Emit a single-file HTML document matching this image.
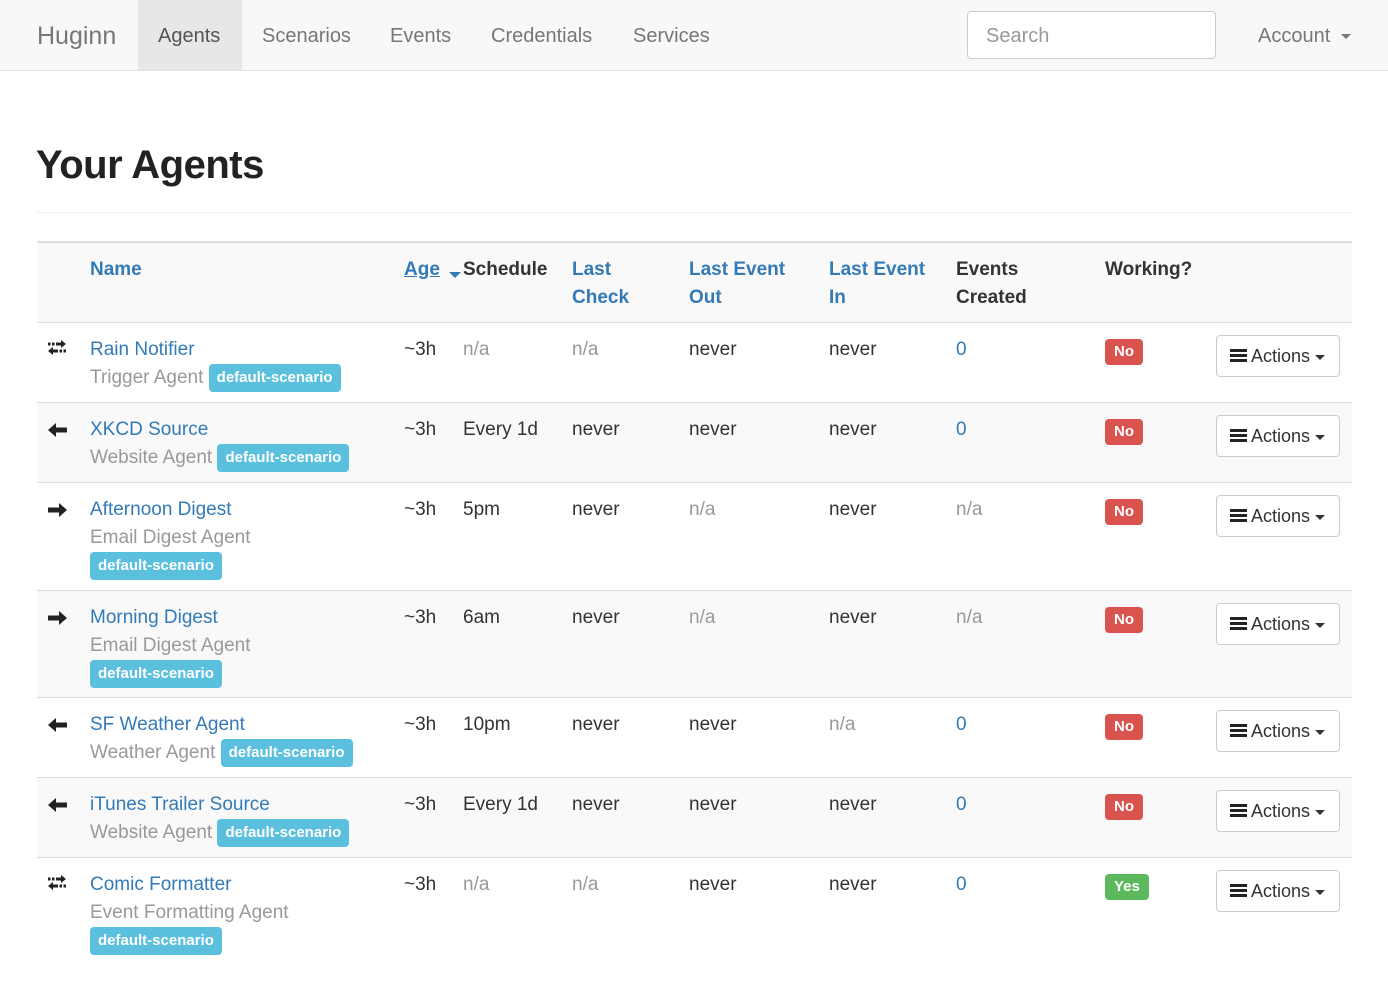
<!DOCTYPE html>
<html><head><meta charset="utf-8"><style>
*{margin:0;padding:0;box-sizing:border-box}
body{width:1388px;height:1004px;background:#fff;font-family:"Liberation Sans",Arial,sans-serif;font-size:19px;color:#333;position:relative;overflow:hidden}
.a{position:absolute;white-space:nowrap;line-height:28px}
.nav{position:absolute;left:0;top:0;width:1388px;height:71px;background:#f8f8f8;border-bottom:1px solid #e2e2e2}
.nav .a{top:22px;color:#777;font-size:20px}
.blue{color:#337ab7}
.mut{color:#999}
.row{position:absolute;left:37px;width:1315px;border-top:1px solid #ddd}
.row .a{top:13px}
.st{background:#f9f9f9}
.lbl{display:inline-block;background:#5bc0de;color:#fff;font-weight:bold;font-size:15px;line-height:28px;height:28px;padding:0 8px;border-radius:4px;vertical-align:middle}
.no,.yes{position:absolute;top:16px;left:1068px;color:#fff;font-weight:bold;font-size:15px;height:26px;line-height:26px;padding:0 9px;border-radius:4px;background:#d9534f}
.yes{background:#5cb85c}
.btn{position:absolute;top:12px;left:1179px;width:124px;height:42px;border:1px solid #ccc;border-radius:4px;background:#fff;font-size:18px;line-height:40px;padding-left:13px;color:#333}
.car{display:inline-block;width:0;height:0;border-left:5px solid transparent;border-right:5px solid transparent;border-top:5px solid #333;vertical-align:middle;margin-left:5px}
.ic{display:inline-block;width:17px;height:14px;vertical-align:-1px;margin-right:4px;background:linear-gradient(#222 0 3px,transparent 3px 5px,#222 5px 8px,transparent 8px 10px,#222 10px 13px,transparent 0)}
.arr{position:absolute;left:11px;top:17px}
.th{font-weight:bold}
</style></head><body>
<div class="nav">
<div style="position:absolute;left:138px;top:0;width:104px;height:70px;background:#e7e7e7"></div>
<div class="a" style="left:37px;top:22px;font-size:25px">Huginn</div>
<div class="a" style="left:158px;color:#555">Agents</div>
<div class="a" style="left:262px">Scenarios</div>
<div class="a" style="left:390px">Events</div>
<div class="a" style="left:491px">Credentials</div>
<div class="a" style="left:633px">Services</div>
<div style="position:absolute;left:967px;top:11px;width:249px;height:48px;background:#fff;border:1px solid #ccc;border-radius:4px"></div>
<div class="a" style="left:986px;color:#999">Search</div>
<div class="a" style="left:1258px;color:#777">Account <span class="car" style="border-top-color:#777"></span></div>
</div>
<div class="a" style="left:36px;top:140px;font-size:40px;line-height:50px;color:#222;font-weight:bold;letter-spacing:-0.5px">Your Agents</div>
<div style="position:absolute;left:37px;top:212px;width:1315px;border-top:1px solid #eee"></div>

<svg width="0" height="0" style="position:absolute"><defs>
<g id="L"><polygon points="0,7 8,0 8,4.5 19,4.5 19,9.5 8,9.5 8,14" fill="#222"/></g>
<g id="R"><polygon points="19,7 11,0 11,4.5 0,4.5 0,9.5 11,9.5 11,14" fill="#222"/></g>
<g id="B"><polygon points="18,4 13,0 13,2.5 8,2.5 8,5.5 13,5.5 13,8" fill="#222"/><rect x="0" y="2.5" width="2.5" height="3" fill="#222"/><rect x="4" y="2.5" width="2.5" height="3" fill="#222"/>
<polygon points="0,11 5,7 5,9.5 10,9.5 10,12.5 5,12.5 5,15" fill="#222"/><rect x="11.5" y="9.5" width="2.5" height="3" fill="#222"/><rect x="15.5" y="9.5" width="2.5" height="3" fill="#222"/></g>
</defs></svg>

<div class="row st" style="top:241px;height:81px;border-top:2px solid #ddd">
<div class="a th" style="left:53px;top:13px;color:#337ab7">Name</div>
<div class="a th" style="left:367px;top:13px;color:#337ab7;text-decoration:underline">Age</div>
<div style="position:absolute;left:412px;top:29px;border-left:6px solid transparent;border-right:6px solid transparent;border-top:6px solid #337ab7"></div>
<div class="a th" style="left:426px;top:13px">Schedule</div>
<div class="a th blue" style="left:535px;top:13px">Last<br>Check</div>
<div class="a th blue" style="left:652px;top:13px">Last Event<br>Out</div>
<div class="a th blue" style="left:792px;top:13px">Last Event<br>In</div>
<div class="a th" style="left:919px;top:13px">Events<br>Created</div>
<div class="a th" style="left:1068px;top:13px">Working?</div>
</div>

<div class="row" style="top:322px;height:80px">
<svg class="arr" width="20" height="16"><use href="#B"/></svg>
<div class="a" style="left:53px"><span class="blue">Rain Notifier</span><br><span class="mut">Trigger Agent</span> <span class="lbl">default-scenario</span></div>
<div class="a" style="left:367px">~3h</div><div class="a mut" style="left:426px">n/a</div><div class="a mut" style="left:535px">n/a</div>
<div class="a" style="left:652px">never</div><div class="a" style="left:792px">never</div><div class="a blue" style="left:919px">0</div>
<div class="no">No</div><div class="btn"><span class="ic"></span>Actions<span class="car"></span></div>
</div>

<div class="row st" style="top:402px;height:80px">
<svg class="arr" width="20" height="16" style="top:20px"><use href="#L"/></svg>
<div class="a" style="left:53px"><span class="blue">XKCD Source</span><br><span class="mut">Website Agent</span> <span class="lbl">default-scenario</span></div>
<div class="a" style="left:367px">~3h</div><div class="a" style="left:426px">Every 1d</div><div class="a" style="left:535px">never</div>
<div class="a" style="left:652px">never</div><div class="a" style="left:792px">never</div><div class="a blue" style="left:919px">0</div>
<div class="no">No</div><div class="btn"><span class="ic"></span>Actions<span class="car"></span></div>
</div>

<div class="row" style="top:482px;height:108px">
<svg class="arr" width="20" height="16" style="top:20px"><use href="#R"/></svg>
<div class="a" style="left:53px"><span class="blue">Afternoon Digest</span><br><span class="mut">Email Digest Agent</span><br><span class="lbl">default-scenario</span></div>
<div class="a" style="left:367px">~3h</div><div class="a" style="left:426px">5pm</div><div class="a" style="left:535px">never</div>
<div class="a mut" style="left:652px">n/a</div><div class="a" style="left:792px">never</div><div class="a mut" style="left:919px">n/a</div>
<div class="no">No</div><div class="btn"><span class="ic"></span>Actions<span class="car"></span></div>
</div>

<div class="row st" style="top:590px;height:107px">
<svg class="arr" width="20" height="16" style="top:20px"><use href="#R"/></svg>
<div class="a" style="left:53px"><span class="blue">Morning Digest</span><br><span class="mut">Email Digest Agent</span><br><span class="lbl">default-scenario</span></div>
<div class="a" style="left:367px">~3h</div><div class="a" style="left:426px">6am</div><div class="a" style="left:535px">never</div>
<div class="a mut" style="left:652px">n/a</div><div class="a" style="left:792px">never</div><div class="a mut" style="left:919px">n/a</div>
<div class="no">No</div><div class="btn"><span class="ic"></span>Actions<span class="car"></span></div>
</div>

<div class="row" style="top:697px;height:80px">
<svg class="arr" width="20" height="16" style="top:20px"><use href="#L"/></svg>
<div class="a" style="left:53px"><span class="blue">SF Weather Agent</span><br><span class="mut">Weather Agent</span> <span class="lbl">default-scenario</span></div>
<div class="a" style="left:367px">~3h</div><div class="a" style="left:426px">10pm</div><div class="a" style="left:535px">never</div>
<div class="a" style="left:652px">never</div><div class="a mut" style="left:792px">n/a</div><div class="a blue" style="left:919px">0</div>
<div class="no">No</div><div class="btn"><span class="ic"></span>Actions<span class="car"></span></div>
</div>

<div class="row st" style="top:777px;height:80px">
<svg class="arr" width="20" height="16" style="top:20px"><use href="#L"/></svg>
<div class="a" style="left:53px"><span class="blue">iTunes Trailer Source</span><br><span class="mut">Website Agent</span> <span class="lbl">default-scenario</span></div>
<div class="a" style="left:367px">~3h</div><div class="a" style="left:426px">Every 1d</div><div class="a" style="left:535px">never</div>
<div class="a" style="left:652px">never</div><div class="a" style="left:792px">never</div><div class="a blue" style="left:919px">0</div>
<div class="no">No</div><div class="btn"><span class="ic"></span>Actions<span class="car"></span></div>
</div>

<div class="row" style="top:857px;height:108px">
<svg class="arr" width="20" height="16"><use href="#B"/></svg>
<div class="a" style="left:53px"><span class="blue">Comic Formatter</span><br><span class="mut">Event Formatting Agent</span><br><span class="lbl">default-scenario</span></div>
<div class="a" style="left:367px">~3h</div><div class="a mut" style="left:426px">n/a</div><div class="a mut" style="left:535px">n/a</div>
<div class="a" style="left:652px">never</div><div class="a" style="left:792px">never</div><div class="a blue" style="left:919px">0</div>
<div class="yes">Yes</div><div class="btn"><span class="ic"></span>Actions<span class="car"></span></div>
</div>
</body></html>
